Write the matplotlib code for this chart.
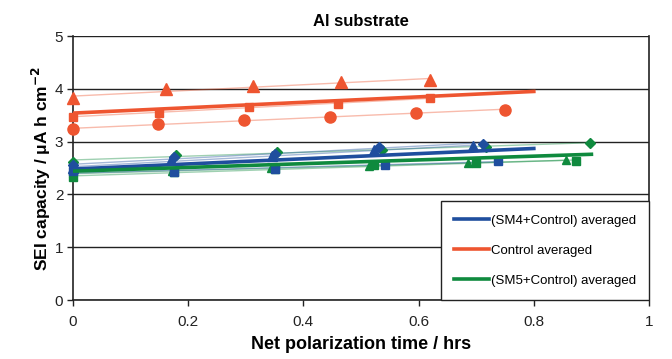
import numpy as np
import matplotlib
matplotlib.use('Agg')
import matplotlib.pyplot as plt

plt.rcParams['font.family'] = ['Liberation Sans', 'DejaVu Sans']

ORANGE = '#EE5530'
BLUE = '#1F4E9E'
GREEN = '#0F8A3E'

# Control series
ctrl_tri_x = [0.0, 0.161, 0.313, 0.466, 0.62]
ctrl_tri_y = [3.82, 3.99, 4.05, 4.12, 4.17]
ctrl_sq_x = [0.0, 0.150, 0.306, 0.460, 0.62]
ctrl_sq_y = [3.47, 3.55, 3.66, 3.72, 3.82]
ctrl_ci_x = [0.0, 0.148, 0.297, 0.446, 0.595, 0.75]
ctrl_ci_y = [3.24, 3.33, 3.40, 3.47, 3.55, 3.60]

# SM4 + Control series
sm4_tri_x = [0.0, 0.171, 0.345, 0.522, 0.695]
sm4_tri_y = [2.50, 2.66, 2.72, 2.84, 2.92]
sm4_di_x = [0.0, 0.176, 0.350, 0.532, 0.711]
sm4_di_y = [2.55, 2.70, 2.76, 2.90, 2.96]
sm4_sq_x = [0.0, 0.175, 0.350, 0.542, 0.737]
sm4_sq_y = [2.44, 2.42, 2.49, 2.56, 2.64]

# SM5 + Control series
sm5_di_x = [0.0, 0.178, 0.355, 0.536, 0.717, 0.898]
sm5_di_y = [2.62, 2.74, 2.81, 2.85, 2.89, 2.98]
sm5_tri_x = [0.0, 0.172, 0.343, 0.514, 0.685, 0.856]
sm5_tri_y = [2.40, 2.44, 2.50, 2.53, 2.59, 2.66]
sm5_sq_x = [0.0, 0.175, 0.350, 0.523, 0.700, 0.874]
sm5_sq_y = [2.33, 2.42, 2.48, 2.55, 2.60, 2.63]

# averaged trend lines (start, end)
avg_x = {'sm4': [0.0, 0.8], 'ctrl': [0.0, 0.8], 'sm5': [0.0, 0.9]}
avg_y = {'sm4': [2.48, 2.87], 'ctrl': [3.54, 3.95], 'sm5': [2.44, 2.76]}

fig = plt.figure(figsize=(6.72, 3.59), dpi=100)
ax = fig.add_axes([0.1086, 0.1643, 0.8572, 0.7354])


def series(x, y, color, marker, ms):
    x = np.array(x)
    y = np.array(y)
    k, b = np.polyfit(x, y, 1)
    ax.plot([x.min(), x.max()], [b + k * x.min(), b + k * x.max()],
            color=color, lw=1.0, alpha=0.4, zorder=2)
    ax.plot(x, y, ls='none', marker=marker, ms=ms, color=color, mec=color,
            zorder=3, clip_on=False)


series(ctrl_tri_x, ctrl_tri_y, ORANGE, '^', 8)
series(ctrl_sq_x, ctrl_sq_y, ORANGE, 's', 6)
series(ctrl_ci_x, ctrl_ci_y, ORANGE, 'o', 8)

series(sm5_di_x, sm5_di_y, GREEN, 'D', 5)
series(sm5_tri_x, sm5_tri_y, GREEN, '^', 6)
series(sm5_sq_x, sm5_sq_y, GREEN, 's', 6)

series(sm4_tri_x, sm4_tri_y, BLUE, '^', 7)
series(sm4_di_x, sm4_di_y, BLUE, 'D', 5)
series(sm4_sq_x, sm4_sq_y, BLUE, 's', 6)

ax.plot(avg_x['sm4'], avg_y['sm4'], color=BLUE, lw=2.6, zorder=4, label='(SM4+Control) averaged')
ax.plot(avg_x['ctrl'], avg_y['ctrl'], color=ORANGE, lw=2.6, zorder=4, label='Control averaged')
ax.plot(avg_x['sm5'], avg_y['sm5'], color=GREEN, lw=2.6, zorder=4, label='(SM5+Control) averaged')

ax.set_xlim(0, 1)
ax.set_ylim(0, 5)
ax.set_xticks([0, 0.2, 0.4, 0.6, 0.8, 1])
ax.set_xticklabels(['0', '0.2', '0.4', '0.6', '0.8', '1'])
ax.set_yticks([0, 1, 2, 3, 4, 5])
ax.yaxis.grid(True, color='#222222', lw=1.0)
ax.set_axisbelow(True)
ax.spines['top'].set_visible(False)
for s in ['left', 'bottom', 'right']:
    ax.spines[s].set_color('#222222')
    ax.spines[s].set_linewidth(1.2)
ax.tick_params(axis='both', labelsize=11, colors='#222222', length=4, width=1.0)
ax.tick_params(axis='x', pad=7)
ax.tick_params(axis='y', pad=3)

ax.set_xlabel('Net polarization time / hrs', fontsize=13, fontweight='bold', labelpad=5)
ax.set_ylabel('SEI capacity / μA h cm$^{\\mathbf{-2}}$', fontsize=12.5, fontweight='bold', labelpad=1)
ax.set_title('Al substrate', fontsize=12, fontweight='bold', pad=7)

leg = ax.legend(loc='lower right', bbox_to_anchor=(1.0, 0.0), borderaxespad=0,
                fontsize=9.5, fancybox=False, edgecolor='#222222', framealpha=1,
                handlelength=2.65, handletextpad=0.15, labelspacing=1.35,
                borderpad=1.0)
leg.get_frame().set_linewidth(1.0)

fig.savefig('out.png', dpi=100)
